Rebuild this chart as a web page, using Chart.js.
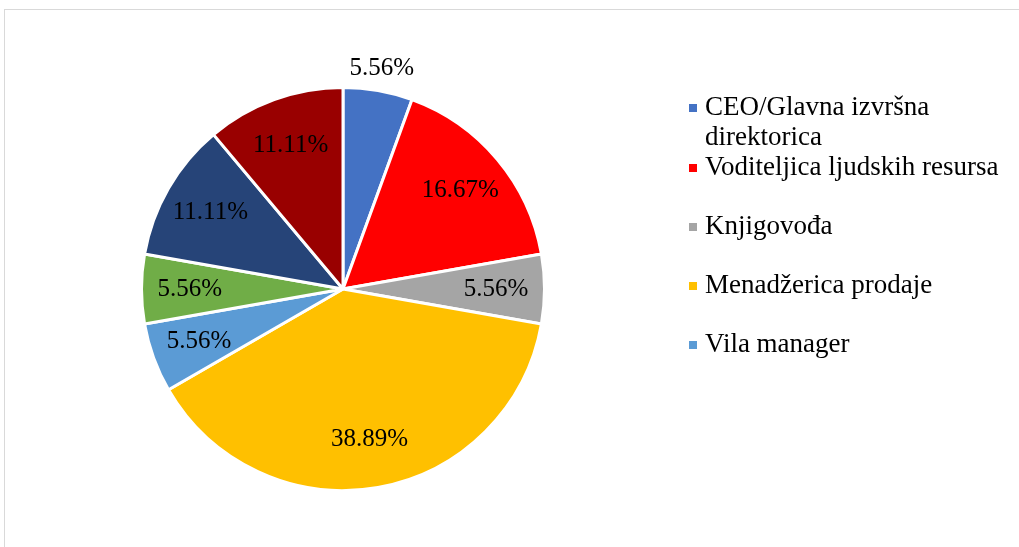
<!DOCTYPE html>
<html>
<head>
<meta charset="utf-8">
<script src="https://cdn.jsdelivr.net/npm/chart.js@4/dist/chart.umd.min.js"></script>
<style>
  html, body { margin: 0; padding: 0; background: #fff; overflow: hidden; }
  #wrap { position: relative; width: 1019px; height: 547px; }
  #frame { position: absolute; left: 4px; top: 9px; width: 1100px; height: 700px; border: 1px solid #d9d9d9; box-sizing: border-box; }
  canvas { position: absolute; left: 0; top: 0; }
</style>
</head>
<body>
<div id="wrap">
  <div id="frame"></div>
  <canvas id="c" width="1019" height="547"></canvas>
</div>
<script>
// ---- data ----
const categories = [
  'CEO/Glavna izvršna direktorica',
  'Voditeljica ljudskih resursa',
  'Knjigovođa',
  'Menadžerica prodaje',
  'Vila manager',
  '',
  '',
  ''
];
const values = [5.56, 16.67, 5.56, 38.89, 5.56, 5.56, 11.11, 11.11];
const colors = ['#4472C4', '#FF0000', '#A5A5A5', '#FFC000', '#5B9BD5', '#70AD47', '#264478', '#990000'];

const FONT = '"Liberation Serif", "Times New Roman", serif';

// data labels drawn at arc positions
const pctLabels = {
  id: 'pctLabels',
  afterDatasetsDraw(chart, args, opts) {
    const ctx = chart.ctx;
    const meta = chart.getDatasetMeta(0);
    ctx.save();
    ctx.font = opts.fontSize + 'px ' + FONT;
    ctx.fillStyle = '#000';
    ctx.textAlign = 'center';
    ctx.textBaseline = 'middle';
    meta.data.forEach((arc, i) => {
      const p = arc.getProps(['x', 'y', 'startAngle', 'endAngle', 'outerRadius'], true);
      const mid = (p.startAngle + p.endAngle) / 2;
      const outside = opts.outside.includes(i);
      const r = outside ? p.outerRadius + opts.outsideGap : p.outerRadius * opts.insideFactor;
      const tx = p.x + Math.cos(mid) * r;
      const ty = p.y + Math.sin(mid) * r;
      ctx.fillText(values[i].toFixed(2) + '%', tx, ty);
    });
    ctx.restore();
  }
};

// legend (Excel-like, right side, wrapped text)
const sideLegend = {
  id: 'sideLegend',
  afterDraw(chart, args, opts) {
    const ctx = chart.ctx;
    ctx.save();
    ctx.font = opts.fontSize + 'px ' + FONT;
    ctx.textBaseline = 'middle';
    ctx.textAlign = 'left';
    let y = opts.top;
    categories.forEach((label, i) => {
      if (!label) return;
      const words = label.split(' ');
      const lines = [];
      let cur = '';
      words.forEach(w => {
        const test = cur ? cur + ' ' + w : w;
        if (ctx.measureText(test).width > opts.maxWidth && cur) { lines.push(cur); cur = w; }
        else cur = test;
      });
      if (cur) lines.push(cur);
      const firstY = y + opts.lineHeight / 2;
      ctx.fillStyle = colors[i];
      ctx.fillRect(opts.x, firstY - opts.box / 2, opts.box, opts.box);
      ctx.fillStyle = '#000';
      lines.forEach((ln, k) => ctx.fillText(ln, opts.x + opts.textGap, firstY + k * opts.lineHeight));
      y += Math.max(opts.slot, lines.length * opts.lineHeight);
    });
    ctx.restore();
  }
};

new Chart(document.getElementById('c'), {
  type: 'pie',
  data: {
    labels: categories,
    datasets: [{
      data: values,
      backgroundColor: colors,
      borderColor: '#ffffff',
      borderWidth: 3,
      hoverOffset: 0
    }]
  },
  options: {
    responsive: false,
    animation: false,
    layout: { padding: { left: 140, right: 473, top: 86, bottom: 55 } },
    plugins: {
      legend: { display: false },
      tooltip: { enabled: false },
      pctLabels: { fontSize: 25, insideFactor: 0.76, outsideGap: 22, outside: [0] },
      sideLegend: { x: 689, textGap: 16, box: 8, fontSize: 27, lineHeight: 30, slot: 59, top: 93, maxWidth: 305 }
    }
  },
  plugins: [pctLabels, sideLegend]
});
</script>
</body>
</html>
